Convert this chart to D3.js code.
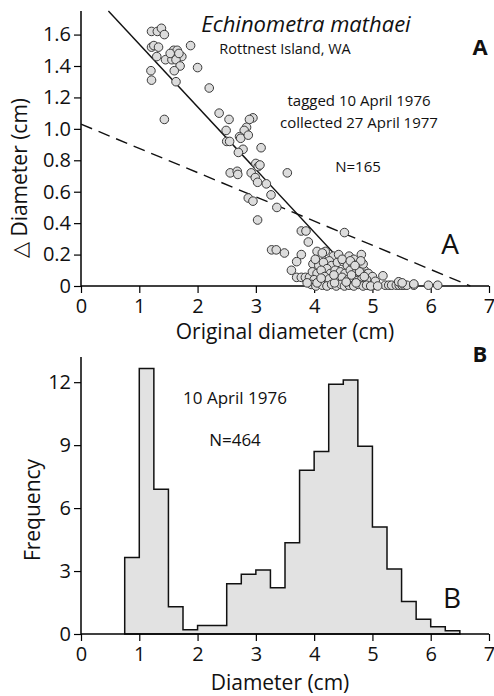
<!DOCTYPE html>
<html><head><meta charset="utf-8">
<script src="https://cdn.jsdelivr.net/npm/d3@7"></script>
<style>
html,body{margin:0;padding:0;background:#fff;}
svg{display:block;}
text{font-family:"Open Sans",sans-serif;fill:#111;}
</style></head>
<body>
<script>
// ---------- DATA ----------
// Panel A: original diameter (cm) vs change in diameter (cm)
const origDiameter = [
 1.21,1.31,1.38,1.43,1.21,1.25,1.33,1.88,1.59,1.65,1.30,1.45,1.56,1.73,1.63,1.70,2.00,1.20,1.60,1.21,1.63,2.20,1.43,1.53,1.68,
 2.37,2.54,2.49,2.50,2.55,2.95,2.89,2.84,2.80,2.72,2.74,2.87,3.09,2.78,2.70,3.00,3.04,3.07,2.56,2.68,2.69,2.92,3.54,2.99,3.03,
 3.18,3.26,2.87,2.95,3.36,3.03,3.78,3.86,4.52,3.90,3.27,3.35,3.49,3.78,3.70,3.61,3.70,3.78,3.85,3.92,
 5.18,4.81,4.86,4.88,4.92,5.02,5.22,5.28,5.33,5.41,5.46,5.51,5.55,5.59,5.71,5.96,6.12,5.45,5.51,5.71,
 4.05,4.19,4.33,4.12,4.42,4.60,4.68,4.26,
 3.98,4.08,4.16,4.30,4.40,4.50,4.57,4.66,4.74,4.84,4.22,
 3.97,4.05,4.12,4.28,4.36,4.45,4.53,4.62,4.70,4.78,4.93,5.00,4.18,
 4.00,4.10,4.20,4.33,4.42,4.48,4.58,4.66,4.74,4.82,4.90,5.05,4.26,
 3.95,4.03,4.14,4.22,4.30,4.38,4.46,4.52,4.60,4.68,4.76,4.84,4.90,4.97,5.09,4.35,4.55,4.72,4.05,
 4.02,4.14,4.48,4.62,4.80,4.34,4.64,4.86,3.88,4.12,4.70
];
const deltaDiameter = [
 1.62,1.62,1.64,1.60,1.52,1.53,1.52,1.53,1.50,1.50,1.46,1.44,1.44,1.46,1.44,1.40,1.39,1.37,1.37,1.31,1.30,1.26,1.06,1.48,1.48,
 1.10,1.06,0.99,0.92,0.92,1.07,1.06,1.01,0.99,0.95,0.94,0.96,0.88,0.87,0.85,0.78,0.76,0.77,0.72,0.73,0.71,0.72,0.72,0.69,0.66,
 0.65,0.58,0.56,0.54,0.50,0.42,0.35,0.35,0.34,0.28,0.23,0.23,0.21,0.20,0.155,0.10,0.055,0.055,0.055,0.055,
 0.065,0.20,0.10,0.075,0.005,0.005,0.005,0.005,0.005,0.005,0.005,0.005,0.005,0.005,0.005,0.005,0.005,0.027,0.02,0.013,
 0.22,0.22,0.19,0.18,0.20,0.19,0.17,0.16,
 0.14,0.13,0.15,0.13,0.15,0.155,0.13,0.14,0.12,0.14,0.11,
 0.09,0.08,0.10,0.08,0.10,0.09,0.08,0.10,0.08,0.09,0.08,0.06,0.06,
 0.04,0.035,0.03,0.05,0.04,0.055,0.04,0.05,0.035,0.045,0.04,0.03,0.045,
 0.01,0.0,0.005,0.0,0.01,0.0,0.01,0.0,0.005,0.0,0.01,0.0,0.005,0.0,0.0,0.02,0.025,0.02,0.02,
 0.17,0.21,0.17,0.16,0.16,0.07,0.07,0.06,0.02,0.05,0.13
];
// fitted lines (endpoints in data units)
const solidLine = [[0.47,1.75],[4.86,0.0]];
const dashedLine = [[0.0,1.03],[6.68,0.0]];

// Panel B: size-frequency histogram, 0.25 cm bins
const binStarts = [0.75,1.0,1.25,1.5,1.75,2.0,2.25,2.5,2.75,3.0,3.25,3.5,3.75,4.0,4.25,4.5,4.75,5.0,5.25,5.5,5.75,6.0,6.25];
const frequency = [3.65,12.65,6.9,1.3,0.2,0.4,0.4,2.4,2.85,3.05,2.2,4.35,7.8,8.7,11.9,12.1,8.95,5.1,3.1,1.55,0.7,0.35,0.15];
const binWidth = 0.25;

const xTicks = [0,1,2,3,4,5,6,7];
const yTicksA = [0,0.2,0.4,0.6,0.8,1.0,1.2,1.4,1.6];
const yTicksB = [0,3,6,9,12];

// ---------- DRAW ----------
const W = 494, H = 696;
const svg = d3.select("body").append("svg").attr("width", W).attr("height", H);

const x = d3.scaleLinear().domain([0,7]).range([81,489]);
const yA = d3.scaleLinear().domain([0,1.75]).range([286,11]);
const yB = d3.scaleLinear().domain([0,13.2]).range([634,357]);

function drawAxes(g, y, yTicks, yMinor, xMinor, yFmt) {
  const bottom = y.range()[0], top = y.range()[1];
  // x axis
  const gx = g.append("g").attr("transform", `translate(0,${bottom})`);
  gx.call(d3.axisBottom(x).tickValues(xMinor).tickSize(4).tickFormat(""));
  gx.call(d3.axisBottom(x).tickValues(xTicks).tickSize(7).tickPadding(6).tickFormat(d3.format("d")));
  gx.selectAll(".domain").attr("stroke","#000").attr("stroke-width",1.5);
  gx.selectAll("line").attr("stroke","#000").attr("stroke-width",1.2);
  gx.selectAll("text").attr("font-size",20).attr("fill","#111").attr("font-family","Open Sans");
  // y axis
  const gy = g.append("g").attr("transform", `translate(${x(0)},0)`);
  gy.call(d3.axisLeft(y).tickValues(yMinor).tickSize(4).tickFormat(""));
  gy.call(d3.axisLeft(y).tickValues(yTicks).tickSize(7).tickPadding(3).tickFormat(yFmt));
  gy.selectAll(".domain").attr("stroke","#000").attr("stroke-width",1.5);
  gy.selectAll("line").attr("stroke","#000").attr("stroke-width",1.2);
  gy.selectAll("text").attr("font-size",20).attr("fill","#111").attr("font-family","Open Sans");
  gx.selectAll(".domain").attr("d", `M${x(0)},0H${x(7)}`);
  gy.selectAll(".domain").attr("d", `M0,${top}V${bottom}`);
}

// ---- Panel A ----
const gA = svg.append("g");
const minorA = d3.range(0, 1.71, 0.1).map(v => +v.toFixed(2));
const minorXA = d3.range(0, 7.01, 0.5);
drawAxes(gA, yA, yTicksA, minorA, minorXA, d3.format(".1f"));
// zero label as "0"
gA.selectAll("text").filter(function(){return d3.select(this).text()==="0.0";}).text("0");

const line = d3.line().x(d => x(d[0])).y(d => yA(d[1]));
gA.append("path").attr("d", line(dashedLine)).attr("fill","none")
  .attr("stroke","#111").attr("stroke-width",1.4).attr("stroke-dasharray","12,7");
gA.append("path").attr("d", line(solidLine)).attr("fill","none")
  .attr("stroke","#111").attr("stroke-width",1.4);

const pts = origDiameter.map((v,i) => [v, deltaDiameter[i]]);
gA.append("g").selectAll("circle").data(pts).join("circle")
  .attr("cx", d => x(d[0])).attr("cy", d => yA(d[1])).attr("r", 4.3)
  .attr("fill","#dcdcdc").attr("stroke","#3a3a3a").attr("stroke-width",1);

gA.append("text").attr("x",306).attr("y",32).attr("text-anchor","middle")
  .attr("font-size",22).attr("font-style","italic").text("Echinometra mathaei");
gA.append("text").attr("x",285).attr("y",54).attr("text-anchor","middle")
  .attr("font-size",14.5).text("Rottnest Island, WA");
gA.append("text").attr("x",359).attr("y",106).attr("text-anchor","middle")
  .attr("font-size",15).text("tagged 10 April 1976");
gA.append("text").attr("x",359).attr("y",128).attr("text-anchor","middle")
  .attr("font-size",15).text("collected 27 April 1977");
gA.append("text").attr("x",358).attr("y",172).attr("text-anchor","middle")
  .attr("font-size",15).text("N=165");
gA.append("text").attr("x",480).attr("y",55).attr("text-anchor","middle")
  .attr("font-size",22).attr("font-weight","bold").text("A");
gA.append("text").attr("x",450).attr("y",254).attr("text-anchor","middle")
  .attr("font-size",28).text("A");
gA.append("text").attr("x",285).attr("y",339).attr("text-anchor","middle")
  .attr("font-size",21).text("Original diameter (cm)");
gA.append("text").attr("transform","translate(27,178) rotate(-90)").attr("text-anchor","middle")
  .attr("font-size",21).text("\u25B3 Diameter (cm)");

// ---- Panel B ----
const gB = svg.append("g");
// step outline of histogram
const stepPts = [];
binStarts.forEach((b,i) => {
  stepPts.push([b, frequency[i]]);
  stepPts.push([b+binWidth, frequency[i]]);
});
const first = binStarts[0], last = binStarts[binStarts.length-1] + binWidth;
const histPts = [[first,0]].concat(stepPts, [[last,0]]);
const histLine = d3.line().x(d => x(d[0])).y(d => yB(d[1]));
gB.append("path").attr("d", histLine(histPts) + "Z").attr("fill","#e2e2e2")
  .attr("stroke","#111").attr("stroke-width",1.5).attr("stroke-linejoin","miter");

const minorB = d3.range(0, 13.01, 1);
const minorXB = d3.range(0, 7.01, 0.25);
drawAxes(gB, yB, yTicksB, minorB, minorXB, d3.format("d"));

gB.append("text").attr("x",235).attr("y",404).attr("text-anchor","middle")
  .attr("font-size",17).text("10 April 1976");
gB.append("text").attr("x",235).attr("y",446).attr("text-anchor","middle")
  .attr("font-size",17).text("N=464");
gB.append("text").attr("x",480).attr("y",362).attr("text-anchor","middle")
  .attr("font-size",22).attr("font-weight","bold").text("B");
gB.append("text").attr("x",452).attr("y",608).attr("text-anchor","middle")
  .attr("font-size",28).text("B");
gB.append("text").attr("x",280).attr("y",690).attr("text-anchor","middle")
  .attr("font-size",21).text("Diameter (cm)");
gB.append("text").attr("transform","translate(40,510) rotate(-90)").attr("text-anchor","middle")
  .attr("font-size",21).text("Frequency");
</script>
</body></html>
